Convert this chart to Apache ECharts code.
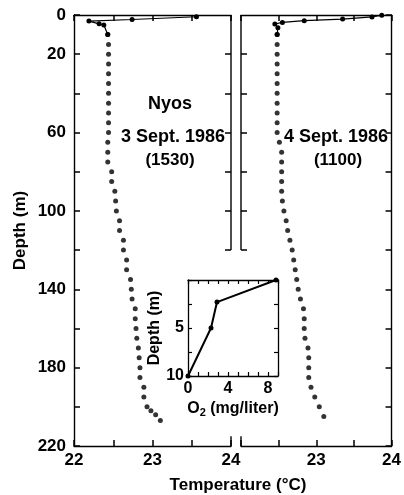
<!DOCTYPE html>
<html><head><meta charset="utf-8">
<script src="https://cdn.jsdelivr.net/npm/echarts@6/dist/echarts.min.js"></script>
<style>html,body{margin:0;padding:0;background:#fff}#c{width:404px;height:495px}</style>
</head><body><div id="c"></div>
<script>
// ---- data ----
const leftSurfaceT = [23.56, 22.74, 22.19, 22.32, 22.38, 22.43];
const leftSurfaceD = [0.9, 2.3, 3.1, 4.5, 5.1, 10];
const leftDotD = [10,15,20,25,30,35,40,45,50,55,60,65,70,75,80,85,90,95,100,105,110,115,120,125,130,135,140,145,150,155,160,165,170,175,180,185,190,195,200,202,204,207];
const leftDotT = [22.43,22.44,22.44,22.44,22.44,22.44,22.44,22.44,22.44,22.44,22.44,22.43,22.43,22.43,22.48,22.48,22.52,22.53,22.54,22.58,22.58,22.63,22.63,22.67,22.67,22.72,22.73,22.74,22.78,22.78,22.79,22.80,22.82,22.83,22.84,22.84,22.89,22.89,22.93,22.98,23.04,23.10];
const rightSurfaceT = [23.87, 23.74, 23.35, 22.84, 22.55, 22.45, 22.49, 22.48];
const rightSurfaceD = [0.1, 1.0, 2.1, 2.9, 3.8, 4.6, 6.5, 10];
const rightDotD = [10,15,20,25,30,35,40,45,50,55,60,65,70,75,80,85,90,95,100,105,110,115,120,125,130,135,140,145,150,155,160,165,170,175,180,185,190,195,200,205];
const rightDotT = [22.48,22.48,22.48,22.48,22.48,22.48,22.48,22.48,22.48,22.48,22.48,22.51,22.54,22.54,22.54,22.54,22.54,22.55,22.57,22.60,22.62,22.65,22.68,22.70,22.72,22.74,22.76,22.79,22.83,22.84,22.84,22.85,22.89,22.90,22.90,22.90,22.93,22.98,23.04,23.10];
const insetO2 = [8.8, 2.9, 2.3, 0];
const insetD = [0, 2.3, 5, 10];
const depthTickLabels = [0, 20, 60, 100, 140, 180, 220];
const tempTickLabelsLeft = [22, 23, 24];
const tempTickLabelsRight = [23, 24];
const insetXLabels = [0, 4, 8];
const insetYLabels = [5, 10];
const borderTicks = [20, 40, 60, 80, 100, 120];

// ---- styles ----
const FF = "'Liberation Sans', Arial, sans-serif";
const lineStyle = {color:'#000', width:1.4};
const tickStyle = {color:'#000', width:1.5};
const thin = {color:'#000', width:1.3};
const lbl = (size) => ({color:'#000', fontFamily:FF, fontWeight:'bold', fontSize:size});
const pairs = (xs, ys) => xs.map((x,i)=>[x, ys[i]]);

function tempAxis(grid, pos, labels) {
  return {
    type:'value', gridIndex:grid, position:pos, min:22, max:24, interval:0.5,
    axisLine:{show:true, onZero:false, lineStyle}, splitLine:{show:false},
    axisTick:{show:true, inside:true, length:6, lineStyle:tickStyle},
    axisLabel:{show: !!labels, margin:6, ...lbl(17),
      formatter: v => (labels && labels.indexOf(v) >= 0) ? String(v) : ''}
  };
}
function depthAxis(grid, pos, opts) {
  return Object.assign({
    type:'value', gridIndex:grid, position:pos, min:0, max:220, interval:20, inverse:true,
    axisLine:{show:true, onZero:false, lineStyle}, splitLine:{show:false},
    axisTick:{show:true, inside:true, length:6, lineStyle:tickStyle},
    axisLabel:{show:false}
  }, opts || {});
}
function insetAxis(pos, isX, extra) {
  return Object.assign({
    type:'value', gridIndex:2, position:pos,
    min:0, max: isX ? 9 : 10, interval: isX ? 1 : 2.5, inverse: !isX,
    axisLine:{show:true, onZero:false, lineStyle:thin}, splitLine:{show:false},
    axisTick:{show:true, inside:true, length:4, lineStyle:{color:'#000', width:1.2}},
    axisLabel:{show:false}
  }, extra || {});
}

const option = {
  animation:false,
  backgroundColor:'#fff',
  grid:[
    {left:74, top:15, width:157, height:431},
    {left:241, top:15, width:157, height:431},
    {left:188, top:280, width:90, height:96}
  ],
  xAxis:[
    tempAxis(0,'bottom',tempTickLabelsLeft),
    tempAxis(0,'top',null),
    tempAxis(1,'bottom',tempTickLabelsRight),
    tempAxis(1,'top',null),
    insetAxis('bottom', true, {
      axisLabel:{show:true, margin:5, ...lbl(16), formatter: v => insetXLabels.indexOf(v)>=0 ? String(v) : ''},
      name:'O{sub|2} (mg/liter)', nameLocation:'middle', nameGap:23,
      nameTextStyle:{...lbl(16), rich:{sub:{...lbl(11), verticalAlign:'bottom', padding:[8,0,0,0]}}}
    }),
    insetAxis('top', true)
  ],
  yAxis:[
    depthAxis(0,'left',{
      axisLabel:{show:true, margin:8, ...lbl(17), formatter: v => depthTickLabels.indexOf(v)>=0 ? String(v) : ''},
      name:'Depth (m)', nameLocation:'middle', nameGap:45, nameTextStyle:lbl(17)
    }),
    depthAxis(0,'right',{axisLine:{show:false, onZero:false}, axisTick:{show:true, inside:true, length:6, lineStyle:tickStyle, customValues:borderTicks}}),
    depthAxis(1,'left',{axisLine:{show:false, onZero:false}, axisTick:{show:true, inside:true, length:6, lineStyle:tickStyle, customValues:borderTicks}}),
    depthAxis(1,'right',{}),
    insetAxis('left', false, {
      axisLabel:{show:true, margin:4, ...lbl(16), formatter: v => insetYLabels.indexOf(v)>=0 ? String(v) : ''},
      name:'Depth (m)', nameLocation:'middle', nameGap:25, nameTextStyle:lbl(16)
    }),
    insetAxis('right', false)
  ],
  series:[
    // partial panel borders
    {type:'line', xAxisIndex:0, yAxisIndex:0, data:[[24,0],[24,120]], symbol:'none', clip:false, lineStyle, silent:true},
    {type:'line', xAxisIndex:0, yAxisIndex:0, data:[[24,215],[24,220]], symbol:'none', clip:false, lineStyle, silent:true},
    {type:'line', xAxisIndex:2, yAxisIndex:2, data:[[22,0],[22,120]], symbol:'none', clip:false, lineStyle, silent:true},
    {type:'line', xAxisIndex:2, yAxisIndex:2, data:[[22,215],[22,220]], symbol:'none', clip:false, lineStyle, silent:true},
    // left panel
    {type:'line', xAxisIndex:0, yAxisIndex:0, data:pairs(leftSurfaceT,leftSurfaceD), symbol:'circle', symbolSize:5, showAllSymbol:true, clip:false,
     itemStyle:{color:'#000'}, lineStyle:{color:'#000', width:1.2}},
    {type:'scatter', xAxisIndex:0, yAxisIndex:0, data:pairs(leftDotT,leftDotD), symbolSize:5, itemStyle:{color:'#000'}},
    // right panel
    {type:'line', xAxisIndex:2, yAxisIndex:2, data:pairs(rightSurfaceT,rightSurfaceD), symbol:'circle', symbolSize:5, showAllSymbol:true, clip:false,
     itemStyle:{color:'#000'}, lineStyle:{color:'#000', width:1.2}},
    {type:'scatter', xAxisIndex:2, yAxisIndex:2, data:pairs(rightDotT,rightDotD), symbolSize:5, itemStyle:{color:'#000'}},
    // inset
    {type:'line', xAxisIndex:4, yAxisIndex:4, data:pairs(insetO2,insetD), symbol:'circle', symbolSize:5, showAllSymbol:true, clip:false,
     itemStyle:{color:'#000'}, lineStyle:{color:'#000', width:2}}
  ],
  graphic:[
    {type:'text', x:170, y:104, style:{text:'Nyos', textAlign:'center', textVerticalAlign:'middle', fill:'#000', font:"bold 18px 'Liberation Sans', Arial"}},
    {type:'text', x:173, y:137, style:{text:'3 Sept. 1986', textAlign:'center', textVerticalAlign:'middle', fill:'#000', font:"bold 18px 'Liberation Sans', Arial"}},
    {type:'text', x:170, y:160, style:{text:'(1530)', textAlign:'center', textVerticalAlign:'middle', fill:'#000', font:"bold 17px 'Liberation Sans', Arial"}},
    {type:'text', x:336, y:137, style:{text:'4 Sept. 1986', textAlign:'center', textVerticalAlign:'middle', fill:'#000', font:"bold 18px 'Liberation Sans', Arial"}},
    {type:'text', x:338, y:160, style:{text:'(1100)', textAlign:'center', textVerticalAlign:'middle', fill:'#000', font:"bold 17px 'Liberation Sans', Arial"}},
    {type:'text', x:238, y:485, style:{text:'Temperature (°C)', textAlign:'center', textVerticalAlign:'middle', fill:'#000', font:"bold 17px 'Liberation Sans', Arial"}}
  ]
};
const chart = echarts.init(document.getElementById('c'), null, {renderer:'canvas'});
chart.setOption(option);
</script>
</body></html>
